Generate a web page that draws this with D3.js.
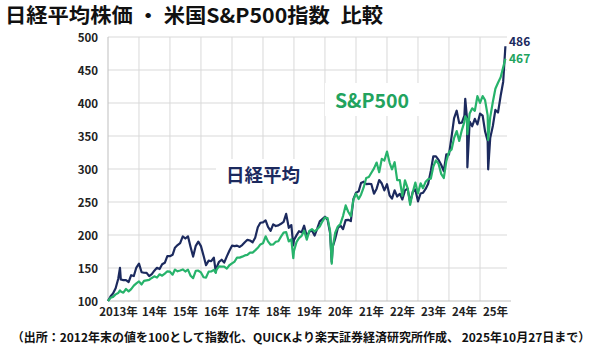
<!DOCTYPE html>
<html>
<head>
<meta charset="utf-8">
<script src="https://cdn.jsdelivr.net/npm/d3@7"></script>
<style>
  body { margin: 0; background: #fff; }
  text { font-family: "Noto Sans CJK JP", "Noto Sans", sans-serif; font-weight: 700; }
</style>
</head>
<body>
<script>
// Month-end points ("YYYY-MM") plus a few intra-month extremes ("YYYY-MM-DD")
const dates = [
  "2012-12",
  "2013-01","2013-02","2013-03","2013-04","2013-05-22","2013-05","2013-06","2013-07","2013-08","2013-09","2013-10","2013-11","2013-12",
  "2014-01","2014-02","2014-03","2014-04","2014-05","2014-06","2014-07","2014-08","2014-09","2014-10","2014-11","2014-12",
  "2015-01","2015-02","2015-03","2015-04","2015-05","2015-06","2015-07","2015-08","2015-09","2015-10","2015-11","2015-12",
  "2016-01","2016-02","2016-03","2016-04","2016-05","2016-06-24","2016-06","2016-07","2016-08","2016-09","2016-10","2016-11","2016-12",
  "2017-01","2017-02","2017-03","2017-04","2017-05","2017-06","2017-07","2017-08","2017-09","2017-10","2017-11","2017-12",
  "2018-01","2018-02","2018-03","2018-04","2018-05","2018-06","2018-07","2018-08","2018-09","2018-10","2018-11","2018-12-24","2018-12",
  "2019-01","2019-02","2019-03","2019-04","2019-05","2019-06","2019-07","2019-08","2019-09","2019-10","2019-11","2019-12",
  "2020-01","2020-02","2020-03-21","2020-03","2020-04","2020-05","2020-06","2020-07","2020-08","2020-09","2020-10","2020-11","2020-12",
  "2021-01","2021-02","2021-03","2021-04","2021-05","2021-06","2021-07","2021-08","2021-09","2021-10","2021-11","2021-12",
  "2022-01","2022-02","2022-03","2022-04","2022-05","2022-06","2022-07","2022-08","2022-09","2022-10","2022-11","2022-12",
  "2023-01","2023-02","2023-03","2023-04","2023-05","2023-06","2023-07","2023-08","2023-09","2023-10","2023-11","2023-12",
  "2024-01","2024-02","2024-03","2024-04","2024-05","2024-06","2024-07-11","2024-07","2024-08-05","2024-08","2024-09","2024-10","2024-11","2024-12",
  "2025-01","2025-02","2025-03","2025-04-07","2025-04","2025-05","2025-06","2025-07","2025-08","2025-09","2025-10-27"
];

const nikkei = [
  100,
  107.2,111.2,119.3,133.3,150.3,132.5,131.6,131.5,128.8,139.1,137.8,150.7,156.7,
  143.5,142.8,142.6,137.6,140.8,145.9,150.3,148.4,155.6,157.9,168.0,167.9,
  170.0,180.8,184.8,187.8,197.8,194.7,198.0,181.7,167.3,183.6,190.0,183.1,
  168.5,154.2,161.2,160.3,165.8,143.8,149.8,159.4,162.5,158.2,167.6,176.1,183.9,
  183.2,183.9,181.9,184.7,189.0,192.7,191.7,189.0,195.8,211.8,218.6,219.0,
  222.2,212.3,206.4,216.1,213.6,214.6,217.0,220.0,232.0,210.9,215.0,184.3,192.5,
  199.8,205.7,204.0,214.1,198.2,204.7,207.0,199.2,209.3,220.6,224.1,227.6,
  223.2,203.4,159.2,182.0,194.3,210.5,214.4,208.8,222.6,223.0,221.0,254.3,264.0,
  266.1,278.7,280.7,277.2,277.6,277.0,262.5,270.2,283.3,278.0,267.6,277.0,
  259.8,255.2,267.6,258.3,262.4,253.9,267.5,270.2,249.5,265.4,269.1,251.0,
  262.9,264.0,269.8,277.6,297.1,319.3,319.1,313.8,306.5,296.9,322.1,321.9,
  349.1,376.8,388.3,369.5,370.3,380.8,406.2,376.2,302.6,371.8,364.8,376.0,367.6,383.8,
  380.7,357.4,342.6,299.5,346.8,365.2,389.5,385.5,410.9,432.3,486
];

const sp500 = [
  100,
  105.0,106.2,110.0,112.1,116.1,114.4,112.6,118.2,114.5,118.0,123.2,126.6,129.6,
  125.0,130.4,131.3,132.1,134.9,137.4,135.4,140.5,138.3,141.5,145.0,144.4,
  139.9,147.6,145.0,146.3,147.8,144.7,147.5,138.3,134.6,145.8,145.9,143.3,
  136.0,135.5,144.5,144.8,147.1,142.8,147.2,152.5,152.2,152.0,149.1,154.2,157.0,
  159.8,165.8,165.7,167.2,169.1,169.9,173.2,173.4,176.7,180.6,185.7,187.5,
  198.0,190.3,185.2,185.7,189.7,190.6,197.5,203.5,204.3,190.2,193.5,164.9,175.8,
  189.6,195.2,198.7,206.6,193.0,206.3,209.0,205.2,208.8,213.0,220.3,226.6,
  225.6,206.6,156.4,180.8,203.6,212.9,216.8,228.7,244.8,235.2,228.7,253.3,262.7,
  254.4,261.0,272.1,286.4,287.9,294.4,301.0,309.8,295.1,315.4,312.8,326.4,
  309.3,299.6,310.3,283.0,283.0,259.2,282.9,270.9,245.6,265.2,279.5,263.0,
  278.3,271.0,280.5,284.6,285.3,303.8,313.2,307.7,292.7,286.3,311.8,325.6,
  329.7,346.7,357.4,342.6,359.0,371.4,379.9,375.7,352.8,384.2,392.0,388.1,410.3,400.1,
  410.4,404.6,381.3,343.9,378.3,401.6,421.5,430.6,438.9,454.3,467
];

const yTicks = [100, 150, 200, 250, 300, 350, 400, 450, 500];
const yearLabels = ["2013年","14年","15年","16年","17年","18年","19年","20年","21年","22年","23年","24年","25年"];
const seriesNames = ["日経平均", "S&P500"];
const lastLabels = ["486", "467"];

const title = "日経平均株価 ・ 米国S&P500指数\u2002比較";
const note = "（出所：2012年末の値を100として指数化、QUICKより楽天証券経済研究所作成、 2025年10月27日まで）";

const W = 600, H = 354;
const navy = "#1c2a5e", green = "#27b36b", greenText = "#22a35e";

// "YYYY-MM" means the close of that month, plotted at the start of the next month
function toDate(s) {
  if (s.length === 7) return d3.timeMonth.offset(d3.timeParse("%Y-%m")(s), 1);
  return d3.timeParse("%Y-%m-%d")(s);
}
const points = dates.map((s, i) => ({ date: toDate(s), nk: nikkei[i], sp: sp500[i] }));

const x = d3.scaleTime()
  .domain([new Date(2013, 0, 1), new Date(2026, 0, 1)])
  .range([108, 511]);
const y = d3.scaleLinear().domain([100, 500]).range([301, 37]);

const svg = d3.select("body").append("svg")
  .attr("width", W)
  .attr("height", H);

// Title (slightly widened glyphs to match the original's face)
svg.append("text")
  .attr("x", 5)
  .attr("y", 23.2)
  .attr("font-size", "20px")
  .attr("textLength", 378)
  .attr("lengthAdjust", "spacingAndGlyphs")
  .attr("fill", "#111")
  .text(title);

// Grid
const years = d3.range(2014, 2026).map(yr => new Date(yr, 0, 1));
svg.append("g").selectAll("line")
  .data(yTicks.slice(1))
  .enter().append("line")
  .attr("x1", x.range()[0]).attr("x2", 507)
  .attr("y1", d => y(d)).attr("y2", d => y(d))
  .attr("stroke", "#d9d9d9").attr("stroke-width", 1);

svg.append("g").selectAll("line")
  .data(years)
  .enter().append("line")
  .attr("x1", d => x(d)).attr("x2", d => x(d))
  .attr("y1", y(500)).attr("y2", y(100))
  .attr("stroke", "#d9d9d9").attr("stroke-width", 1);

// Axes frame
svg.append("line")
  .attr("x1", x.range()[0]).attr("x2", x.range()[0])
  .attr("y1", y(500)).attr("y2", y(100))
  .attr("stroke", "#bfbfbf");
svg.append("line")
  .attr("x1", x.range()[0]).attr("x2", x.range()[1])
  .attr("y1", y(100)).attr("y2", y(100))
  .attr("stroke", "#bfbfbf");

// Y tick labels
svg.append("g").selectAll("text")
  .data(yTicks)
  .enter().append("text")
  .attr("x", 98)
  .attr("y", d => y(d) + 4.5)
  .attr("text-anchor", "end")
  .attr("font-size", "11.5px")
  .attr("fill", "#222")
  .text(d => d);

// X labels, centred in each year
svg.append("g").selectAll("text")
  .data(yearLabels)
  .enter().append("text")
  .attr("x", (d, i) => (x(new Date(2013 + i, 0, 1)) + x(new Date(2014 + i, 0, 1))) / 2 - (i === 0 ? 5 : 0))
  .attr("y", 316)
  .attr("text-anchor", "middle")
  .attr("font-size", "11.5px")
  .attr("fill", "#222")
  .text(d => d);

// Series labels with white boxes
function boxedLabel(cx, baseline, txt, color, size) {
  const g = svg.append("g");
  const t = g.append("text")
    .attr("x", cx).attr("y", baseline)
    .attr("text-anchor", "middle")
    .attr("font-size", size)
    .attr("fill", color)
    .text(txt);
  const b = t.node().getBBox();
  g.insert("rect", "text")
    .attr("x", b.x - 10).attr("y", b.y - 2)
    .attr("width", b.width + 20).attr("height", b.height + 4)
    .attr("fill", "#fff");
}
boxedLabel(263, 182, seriesNames[0], navy, "18.5px");
boxedLabel(372, 108, seriesNames[1], greenText, "19.5px");

// Lines
const lineNk = d3.line().x(d => x(d.date)).y(d => y(d.nk));
const lineSp = d3.line().x(d => x(d.date)).y(d => y(d.sp));

svg.append("path")
  .datum(points)
  .attr("d", lineNk)
  .attr("fill", "none")
  .attr("stroke", navy)
  .attr("stroke-width", 2.2)
  .attr("stroke-linejoin", "round");

svg.append("path")
  .datum(points)
  .attr("d", lineSp)
  .attr("fill", "none")
  .attr("stroke", green)
  .attr("stroke-width", 2.2)
  .attr("stroke-linejoin", "round");

// End labels
svg.append("text")
  .attr("x", 509).attr("y", 46)
  .attr("font-size", "12px")
  .attr("fill", navy)
  .text(lastLabels[0]);
svg.append("text")
  .attr("x", 509).attr("y", 63)
  .attr("font-size", "12px")
  .attr("fill", greenText)
  .text(lastLabels[1]);

// Footnote
svg.append("text")
  .attr("x", 301)
  .attr("y", 342)
  .attr("text-anchor", "middle")
  .attr("font-size", "12px")
  .attr("fill", "#111")
  .text(note);
</script>
</body>
</html>
